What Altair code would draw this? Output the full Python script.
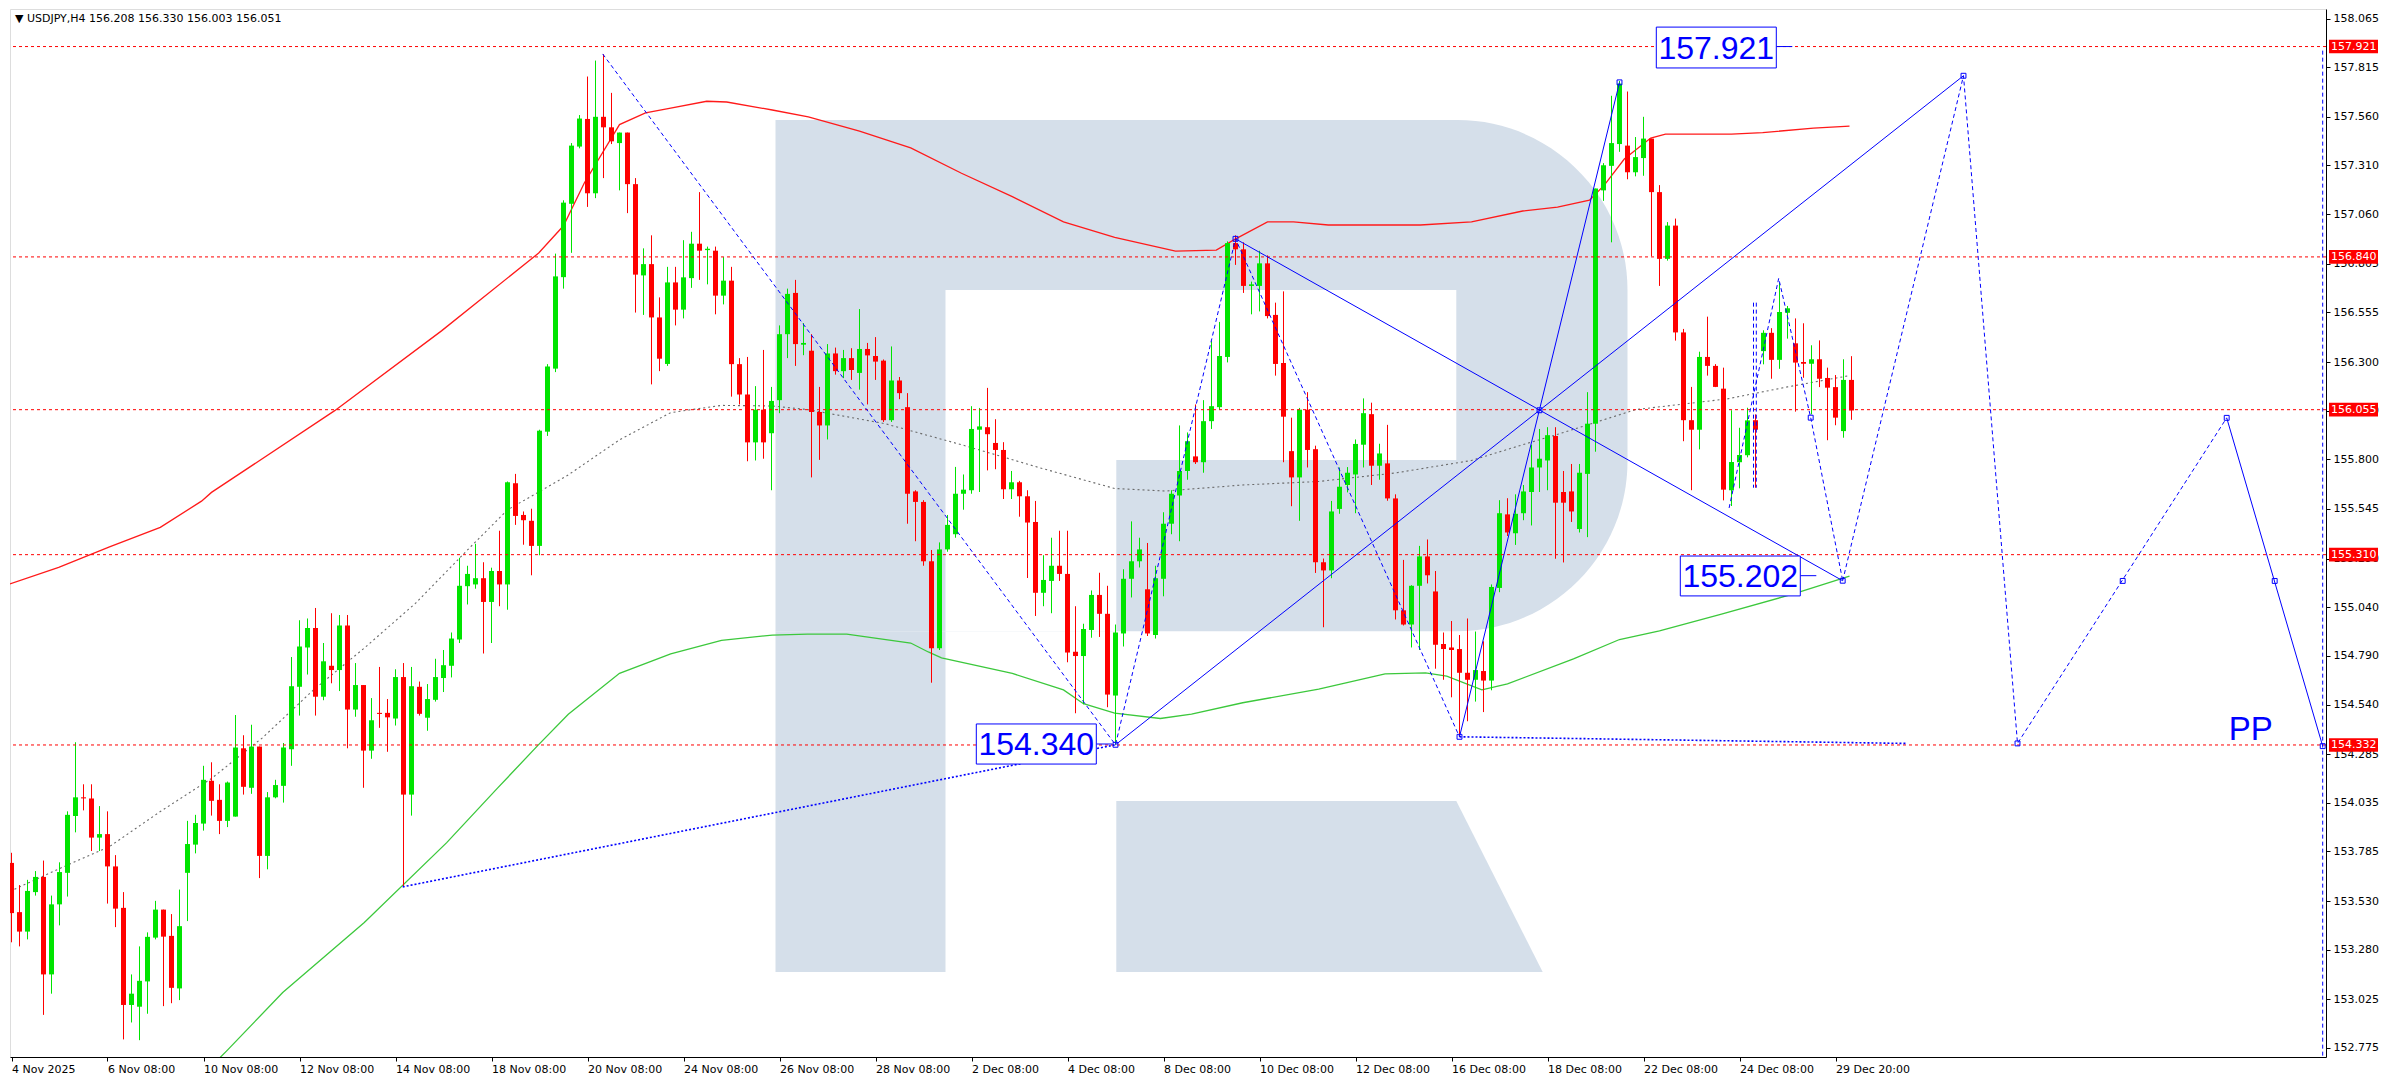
import json
import numpy as np
import pandas as pd
import altair as alt

# ---------------- candles (USDJPY H4) ----------------
opens = [
    153.726, 153.473, 153.373, 153.576, 153.654, 153.153, 153.513, 153.675, 153.967, 154.063,
    154.057, 153.856, 153.874, 153.708, 153.495, 152.996, 152.987, 153.117, 153.342, 153.486,
    153.351, 153.081, 153.675, 153.820, 153.928, 154.148, 154.050, 153.942, 153.964, 154.315,
    154.112, 154.324, 153.762, 154.063, 154.122, 154.310, 154.631, 154.833, 154.933, 154.580,
    154.739, 154.717, 154.946, 154.514, 154.640, 154.303, 154.497, 154.497, 154.468, 154.681,
    154.077, 154.631, 154.472, 154.564, 154.676, 154.739, 154.874, 155.148, 155.157, 155.189,
    155.067, 155.226, 155.157, 155.677, 155.514, 155.484, 155.355, 155.942, 156.266, 156.736,
    157.113, 157.407, 157.549, 157.167, 157.560, 157.506, 157.425, 157.479, 157.214, 156.745,
    156.803, 156.529, 156.290, 156.709, 156.569, 156.731, 156.908, 156.875, 156.872, 156.641,
    156.718, 156.289, 156.133, 155.887, 156.055, 155.934, 156.104, 156.443, 156.655, 156.389,
    156.358, 156.043, 155.974, 156.344, 156.253, 156.320, 156.244, 156.367, 156.331, 156.307,
    156.001, 156.205, 156.068, 155.635, 155.581, 155.276, 154.829, 155.337, 155.415, 155.623,
    155.641, 155.952, 155.965, 155.884, 155.848, 155.646, 155.682, 155.610, 155.478, 155.114,
    155.175, 155.253, 155.211, 154.811, 154.789, 154.923, 155.103, 155.006, 154.586, 154.905,
    155.186, 155.276, 155.132, 154.897, 155.186, 155.469, 155.614, 155.740, 155.815, 155.785,
    155.996, 156.068, 156.326, 156.911, 156.879, 156.691, 156.691, 156.807, 156.542, 156.295,
    155.842, 155.707, 156.055, 155.852, 155.271, 155.229, 155.545, 155.668, 155.722, 155.875,
    156.032, 155.767, 155.779, 155.599, 155.024, 154.951, 155.150, 155.301, 155.121, 154.851,
    154.833, 154.825, 154.703, 154.667, 154.712, 154.663, 155.139, 155.517, 155.420, 155.523,
    155.632, 155.758, 155.794, 155.920, 155.632, 155.635, 155.442, 155.725, 155.983, 157.182,
    157.308, 157.420, 157.412, 157.275, 157.348, 157.448, 157.173, 156.830, 157.001, 156.452,
    156.001, 155.952, 156.326, 156.280, 156.163, 155.641, 155.785, 155.821, 156.001, 156.356,
    156.450, 156.311, 156.553, 156.396, 156.300, 156.291, 156.314, 156.218, 156.171, 155.945,
    156.208,
]
highs = [
    153.778, 153.612, 153.639, 153.684, 153.738, 153.558, 153.729, 153.991, 154.346, 154.130,
    154.130, 154.018, 153.991, 153.766, 153.576, 153.153, 153.297, 153.369, 153.531, 153.486,
    153.463, 153.589, 153.942, 153.973, 154.225, 154.243, 154.130, 154.144, 154.486, 154.382,
    154.436, 154.324, 154.090, 154.153, 154.342, 154.784, 154.973, 154.982, 155.036, 154.856,
    155.009, 155.000, 155.000, 154.753, 154.640, 154.573, 154.733, 154.568, 154.721, 154.753,
    154.733, 154.658, 154.645, 154.775, 154.820, 154.910, 155.294, 155.253, 155.366, 155.271,
    155.243, 155.433, 155.686, 155.725, 155.532, 155.546, 155.952, 156.289, 156.857, 157.131,
    157.425, 157.569, 157.767, 157.849, 157.881, 157.683, 157.479, 157.479, 157.245, 156.884,
    156.951, 156.632, 156.789, 156.789, 156.926, 156.969, 157.173, 156.893, 156.893, 156.839,
    156.789, 156.320, 156.326, 156.176, 156.362, 156.172, 156.488, 156.677, 156.722, 156.500,
    156.443, 156.172, 156.392, 156.374, 156.362, 156.371, 156.572, 156.398, 156.428, 156.313,
    156.380, 156.223, 156.140, 155.641, 155.590, 155.334, 155.373, 155.514, 155.761, 155.722,
    156.073, 156.064, 156.167, 156.006, 155.888, 155.740, 155.689, 155.641, 155.586, 155.307,
    155.397, 155.433, 155.433, 155.045, 154.955, 155.126, 155.217, 155.150, 154.951, 155.235,
    155.481, 155.397, 155.370, 155.253, 155.528, 155.641, 155.974, 155.938, 156.082, 156.104,
    156.407, 156.506, 156.920, 156.951, 156.915, 156.713, 156.872, 156.848, 156.605, 156.663,
    156.014, 156.064, 156.145, 155.870, 155.290, 155.586, 155.758, 155.760, 155.902, 156.113,
    156.091, 155.880, 155.977, 155.620, 155.283, 155.153, 155.355, 155.388, 155.226, 154.910,
    154.969, 154.897, 154.982, 154.915, 154.865, 155.157, 155.590, 155.600, 155.620, 155.668,
    155.875, 155.956, 155.965, 155.965, 155.740, 155.776, 155.776, 156.145, 157.191, 157.322,
    157.668, 157.744, 157.690, 157.456, 157.560, 157.448, 157.209, 157.019, 157.037, 156.470,
    156.172, 156.353, 156.533, 156.289, 156.271, 156.052, 155.962, 156.065, 156.031, 156.463,
    156.474, 156.707, 156.588, 156.524, 156.499, 156.386, 156.411, 156.271, 156.233, 156.314,
    156.330,
]
lows = [
    153.318, 153.297, 153.333, 153.558, 152.945, 153.054, 153.405, 153.553, 153.883, 153.996,
    153.787, 153.787, 153.517, 153.396, 152.819, 152.906, 152.815, 152.951, 153.333, 152.990,
    153.005, 153.021, 153.427, 153.775, 153.892, 153.969, 153.874, 153.910, 153.964, 154.077,
    154.081, 153.648, 153.693, 154.058, 154.036, 154.225, 154.483, 154.694, 154.483, 154.562,
    154.649, 154.609, 154.315, 154.477, 154.112, 154.261, 154.420, 154.297, 154.432, 153.603,
    153.969, 154.483, 154.405, 154.555, 154.604, 154.679, 154.856, 155.054, 155.135, 154.802,
    154.856, 155.045, 155.027, 155.463, 155.361, 155.204, 155.307, 155.920, 156.248, 156.677,
    156.861, 157.398, 157.097, 157.142, 157.245, 157.420, 157.182, 157.065, 156.554, 156.542,
    156.185, 156.253, 156.280, 156.488, 156.524, 156.681, 156.722, 156.699, 156.545, 156.596,
    156.122, 156.082, 155.790, 155.794, 155.803, 155.641, 156.037, 156.320, 156.280, 156.335,
    155.707, 155.797, 155.902, 156.235, 156.217, 156.208, 156.158, 156.082, 156.208, 155.992,
    155.992, 156.109, 155.469, 155.379, 155.253, 154.652, 154.820, 155.325, 155.397, 155.541,
    155.623, 155.632, 155.743, 155.749, 155.596, 155.596, 155.505, 155.190, 154.995, 155.045,
    155.009, 155.175, 154.757, 154.495, 154.541, 154.883, 154.887, 154.526, 154.333, 154.838,
    155.090, 155.244, 154.892, 154.879, 155.096, 155.415, 155.379, 155.695, 155.776, 155.731,
    155.956, 156.055, 156.298, 156.799, 156.655, 156.545, 156.560, 156.524, 156.230, 155.785,
    155.559, 155.484, 155.758, 155.216, 154.937, 155.189, 155.520, 155.630, 155.523, 155.758,
    155.668, 155.695, 155.587, 154.977, 154.946, 154.833, 154.820, 155.162, 154.724, 154.667,
    154.577, 154.375, 154.454, 154.555, 154.501, 154.613, 155.117, 155.406, 155.360, 155.487,
    155.460, 155.632, 155.641, 155.289, 155.270, 155.478, 155.424, 155.400, 155.839, 157.128,
    156.915, 157.380, 157.239, 157.254, 157.257, 156.843, 156.691, 156.821, 156.410, 155.893,
    155.641, 155.851, 156.230, 156.171, 155.589, 155.560, 155.651, 155.810, 155.654, 156.288,
    156.214, 156.265, 156.420, 156.045, 156.219, 156.031, 156.171, 155.898, 155.975, 155.911,
    156.003,
]
closes = [
    153.468, 153.373, 153.582, 153.654, 153.153, 153.513, 153.679, 153.973, 154.063, 154.059,
    153.856, 153.874, 153.708, 153.491, 152.996, 153.054, 153.120, 153.346, 153.486, 153.347,
    153.084, 153.401, 153.823, 153.931, 154.153, 154.045, 153.942, 154.139, 154.319, 154.117,
    154.324, 153.762, 154.063, 154.126, 154.319, 154.634, 154.838, 154.933, 154.580, 154.762,
    154.717, 154.946, 154.514, 154.640, 154.303, 154.459, 154.494, 154.474, 154.681, 154.077,
    154.634, 154.492, 154.568, 154.681, 154.742, 154.879, 155.150, 155.211, 155.189, 155.067,
    155.226, 155.157, 155.682, 155.509, 155.487, 155.355, 155.947, 156.277, 156.740, 157.119,
    157.412, 157.551, 157.167, 157.560, 157.506, 157.434, 157.479, 157.214, 156.749, 156.803,
    156.529, 156.317, 156.709, 156.569, 156.735, 156.908, 156.872, 156.882, 156.641, 156.718,
    156.289, 156.133, 155.887, 156.055, 155.887, 156.100, 156.443, 156.650, 156.392, 156.398,
    156.043, 155.974, 156.344, 156.253, 156.320, 156.259, 156.367, 156.334, 156.302, 156.001,
    156.205, 156.140, 155.623, 155.581, 155.276, 154.829, 155.337, 155.463, 155.623, 155.644,
    155.956, 155.969, 155.929, 155.848, 155.646, 155.682, 155.610, 155.475, 155.114, 155.180,
    155.253, 155.211, 154.807, 154.789, 154.928, 155.103, 155.006, 154.591, 154.910, 155.186,
    155.276, 155.337, 154.905, 155.189, 155.469, 155.623, 155.740, 155.893, 155.785, 155.996,
    156.073, 156.331, 156.911, 156.879, 156.691, 156.699, 156.807, 156.536, 156.290, 156.019,
    155.707, 156.055, 155.848, 155.271, 155.229, 155.532, 155.659, 155.731, 155.879, 156.037,
    155.767, 155.830, 155.599, 155.024, 154.951, 155.150, 155.301, 155.204, 154.847, 154.825,
    154.820, 154.703, 154.667, 154.717, 154.663, 155.144, 155.523, 155.424, 155.520, 155.635,
    155.758, 155.803, 155.924, 155.577, 155.577, 155.532, 155.731, 155.983, 157.191, 157.311,
    157.425, 157.731, 157.275, 157.353, 157.448, 157.173, 156.830, 157.001, 156.452, 156.001,
    155.952, 156.326, 156.280, 156.172, 155.644, 155.786, 155.822, 156.000, 155.952, 156.450,
    156.311, 156.557, 156.576, 156.297, 156.291, 156.314, 156.214, 156.168, 156.014, 156.208,
    156.051,
]

# ---------------- axes ----------------
x_tick_bars = [0, 12, 24, 36, 48, 60, 72, 84, 96, 108, 120, 132, 144, 156, 168, 180, 192, 204, 216, 228]
x_tick_labels = ["4 Nov 2025", "6 Nov 08:00", "10 Nov 08:00", "12 Nov 08:00", "14 Nov 08:00",
                 "18 Nov 08:00", "20 Nov 08:00", "24 Nov 08:00", "26 Nov 08:00", "28 Nov 08:00",
                 "2 Dec 08:00", "4 Dec 08:00", "8 Dec 08:00", "10 Dec 08:00", "12 Dec 08:00",
                 "16 Dec 08:00", "18 Dec 08:00", "22 Dec 08:00", "24 Dec 08:00", "29 Dec 20:00"]
y_tick_values = [158.065, 157.815, 157.560, 157.310, 157.060, 156.805, 156.555, 156.300, 156.050,
                 155.800, 155.545, 155.290, 155.040, 154.790, 154.540, 154.285, 154.035, 153.785,
                 153.530, 153.280, 153.025, 152.775]
level_prices = [157.921, 156.840, 156.055, 155.310, 154.332]

# ---------------- moving averages ----------------
red_ma_bar = [-0.2, 5.9, 12.25, 18.6, 23.75, 25, 40.4, 53.75, 65.9, 69, 71.6, 76, 79.25, 82.4, 86.9,
              89.4, 95.1, 99.6, 106, 112.4, 118.75, 125.1, 131.5, 137.9, 145.5, 150.6, 152.9, 157,
              160.25, 164.6, 176.1, 182.5, 188.9, 193.25, 197.25, 199.1, 201.6, 204.9, 206.75, 215,
              218.9, 225.25, 229.75]
red_ma_price = [155.16, 155.245, 155.35, 155.45, 155.585, 155.63, 156.05, 156.46, 156.86, 157.00,
                157.22, 157.52, 157.58, 157.605, 157.64, 157.636, 157.595, 157.56, 157.487, 157.40,
                157.27, 157.15, 157.02, 156.94, 156.87, 156.875, 156.93, 157.02, 157.02, 157.004,
                157.004, 157.02, 157.076, 157.096, 157.132, 157.209, 157.343, 157.451, 157.471,
                157.471, 157.479, 157.502, 157.512]
green_ma_bar = [23.5, 26.9, 33.9, 44.1, 54.4, 60.75, 65.8, 69.6, 76, 82.4, 88.75, 95.1, 99.5, 104.4,
                112.4, 114.6, 116.25, 125.1, 131.5, 134, 137.9, 143.6, 147.5, 153.9, 163.4, 171.7,
                176.75, 179.4, 183.8, 187, 195.25, 201, 206, 213.75, 222.75, 229.75]
green_ma_price = [152.62, 152.76, 153.06, 153.42, 153.83, 154.11, 154.33, 154.49, 154.70, 154.80,
                  154.87, 154.897, 154.902, 154.902, 154.856, 154.81, 154.78, 154.70, 154.615,
                  154.544, 154.496, 154.468, 154.491, 154.549, 154.619, 154.697, 154.702, 154.686,
                  154.615, 154.646, 154.774, 154.874, 154.918, 155.005, 155.108, 155.20]
gray_ma_bar = [-0.2, 5.9, 12.25, 18.6, 25, 31.4, 37.75, 44.1, 50.5, 56.9, 62, 69.6, 76, 82.4, 88.75,
               95.1, 99.6, 109.2, 118.75, 128.4, 137.9, 144.25, 153.9, 163.4, 173, 182.5, 188.9,
               193.4, 203, 214.4, 222, 229.75]
gray_ma_price = [153.58, 153.695, 153.81, 153.99, 154.16, 154.37, 154.615, 154.83, 155.06, 155.33,
                 155.54, 155.72, 155.90, 156.04, 156.077, 156.074, 156.055, 155.983, 155.875,
                 155.758, 155.65, 155.637, 155.668, 155.686, 155.73, 155.794, 155.875, 155.93,
                 156.055, 156.11, 156.172, 156.23]

# ---------------- forecast drawing ----------------
solid_from_bar = [138, 153, 181, 276.9]
solid_from_price = [154.333, 156.933, 154.374, 156.013]
solid_to_bar = [244, 228.9, 201, 288.9]
solid_to_price = [157.771, 155.176, 157.737, 154.326]

dotted_from_bar = [48.9, 181]
dotted_from_price = [153.603, 154.374]
dotted_to_bar = [138, 236.75]
dotted_to_price = [154.333, 154.34]

dash_group = ["a", "a", "a", "a", "b", "b", "b", "b", "c", "c", "c", "c"]
dash_bar = [73.9, 138, 153, 181, 228.9, 244, 250.75, 276.9, 214.7, 220.9, 224.9, 228.9]
dash_price = [157.883, 154.333, 156.933, 154.374, 155.176, 157.771, 154.34, 156.013,
              155.55, 156.73, 156.014, 155.176]

# vertical dashed guides: bar, top price, bottom price (None-free: bottom of the right guide is the axis floor)
vguide_bar = [217.75, 218.1]
vguide_top = [156.605, 156.605]
vguide_bottom = [155.654, 155.654]
vline_bar = [288.9]
vline_top = [157.90]

marker_bar = [138, 153, 191, 181, 201, 244, 228.9, 276.9, 288.9, 250.75, 263.9, 282.9, 224.9]
marker_price = [154.333, 156.933, 156.052, 154.374, 157.737, 157.771, 155.176, 156.013, 154.326,
                154.34, 155.175, 155.175, 156.014]

box_text = ["157.921", "155.202", "154.340"]
box_left = [205.6, 208.6, 120.6]
box_right = [220.6, 223.6, 135.6]
box_top = [158.021, 155.303, 154.440]
box_bottom = [157.811, 155.098, 154.234]
box_tail_to = [222.6, 225.6, 137.6]
box_tail_price = [157.921, 155.202, 154.337]

pp_bar = [279.9]
pp_price = [154.41]

# watermark "R" (bar / price space)
logo_bowl = dict(x=95.5, x2=202.0, y=154.917, y2=157.543)
logo_stem = dict(x=95.5, x2=116.75, y=153.165, y2=154.917)
logo_holes_x = [116.75, 116.75]
logo_holes_x2 = [180.6, 138.1]
logo_holes_y = [155.796, 154.917]
logo_holes_y2 = [156.670, 155.796]
logo_leg_bar = [138.1, 180.6, 191.4]
logo_leg_top = [154.044, 154.044, 153.165]
logo_leg_bottom = [153.165, 153.165, 153.165]

# ---------------- layout ----------------
W, H = 2316, 1048
PX_PER_BAR = 8.0
PX_PER_UNIT = 194.6
X0 = -0.1875
X_DOMAIN = [X0, X0 + W / PX_PER_BAR]
Y_TOP = 158.114
Y_DOMAIN = [Y_TOP - H / PX_PER_UNIT, Y_TOP]

GREEN = "#00E400"
RED = "#FF0000"
BLUE = "#0000FF"
LOGO = "#D5DFEA"
FONT = "DejaVu Sans"
BIG = "Liberation Sans"

xs = alt.Scale(domain=X_DOMAIN, nice=False, zero=False)
ys = alt.Scale(domain=Y_DOMAIN, nice=False, zero=False)

label_expr = json.dumps(x_tick_labels) + "[round(datum.value / 12)]"
x_axis = alt.Axis(values=x_tick_bars, labelExpr=label_expr, title=None, grid=False,
                  orient="bottom", labelAlign="left", labelFont=FONT, labelFontSize=11,
                  labelColor="black", tickSize=4, tickColor="black", domainColor="black",
                  labelPadding=2, labelOverlap=False, labelFlush=False)
y_axis = alt.Axis(values=y_tick_values, format=".3f", title=None, grid=False, orient="right",
                  labelFont=FONT, labelFontSize=11, labelColor="black", tickSize=4,
                  tickColor="black", domainColor="black", labelPadding=3,
                  labelOverlap=False, labelFlush=False)


def X(f):
    return alt.X(f"{f}:Q", scale=xs, axis=x_axis)


def Y(f):
    return alt.Y(f"{f}:Q", scale=ys, axis=y_axis)


# candle table
n = len(closes)
cd = pd.DataFrame({"x": np.arange(n, dtype=float), "o": opens, "h": highs, "l": lows, "c": closes})
cd["dir"] = np.where(cd["c"] >= cd["o"], "up", "down")
cd["bt"] = cd[["o", "c"]].max(axis=1)
cd["bb"] = np.minimum(cd[["o", "c"]].min(axis=1), cd["bt"] - 0.0055)
cd["xl"] = cd["x"] - 0.3125
cd["xr"] = cd["x"] + 0.3125
ccol = alt.Color("dir:N", scale=alt.Scale(domain=["up", "down"], range=[GREEN, RED]), legend=None)

wicks = alt.Chart(cd).mark_rule(strokeWidth=1, clip=True).encode(
    x=X("x"), y=Y("l"), y2="h", color=ccol)
bodies = alt.Chart(cd).mark_rect(clip=True).encode(
    x=X("xl"), x2="xr", y=Y("bb"), y2="bt", color=ccol)

# watermark
bowl = alt.Chart(pd.DataFrame([logo_bowl])).mark_rect(
    color=LOGO, cornerRadiusTopRight=170, cornerRadiusBottomRight=170).encode(
    x=X("x"), x2="x2", y=Y("y"), y2="y2")
stem = alt.Chart(pd.DataFrame([logo_stem])).mark_rect(color=LOGO).encode(
    x=X("x"), x2="x2", y=Y("y"), y2="y2")
holes = alt.Chart(pd.DataFrame({"x": logo_holes_x, "x2": logo_holes_x2, "y": logo_holes_y,
                                "y2": logo_holes_y2})).mark_rect(color="white").encode(
    x=X("x"), x2="x2", y=Y("y"), y2="y2")
leg = alt.Chart(pd.DataFrame({"x": logo_leg_bar, "y": logo_leg_top, "y2": logo_leg_bottom})).mark_area(
    color=LOGO, opacity=1).encode(x=X("x"), y=Y("y"), y2="y2")

# moving averages
red_ma = alt.Chart(pd.DataFrame({"x": red_ma_bar, "y": red_ma_price})).mark_line(
    color="#FF1A1A", strokeWidth=1.3, clip=True).encode(x=X("x"), y=Y("y"))
green_ma = alt.Chart(pd.DataFrame({"x": green_ma_bar, "y": green_ma_price})).mark_line(
    color="#3CC83C", strokeWidth=1.3, clip=True).encode(x=X("x"), y=Y("y"))
gray_ma = alt.Chart(pd.DataFrame({"x": gray_ma_bar, "y": gray_ma_price})).mark_line(
    color="#6A6A6A", strokeWidth=1.1, strokeDash=[2, 3], clip=True).encode(x=X("x"), y=Y("y"))

# horizontal levels
levels = alt.Chart(pd.DataFrame({"y": level_prices})).mark_rule(
    color=RED, strokeWidth=1, strokeDash=[3, 3]).encode(y=Y("y"))

# blue drawing
solid = alt.Chart(pd.DataFrame({"x": solid_from_bar, "y": solid_from_price,
                                "x2": solid_to_bar, "y2": solid_to_price})).mark_rule(
    color=BLUE, strokeWidth=1, clip=True).encode(x=X("x"), y=Y("y"), x2="x2", y2="y2")
dotted = alt.Chart(pd.DataFrame({"x": dotted_from_bar, "y": dotted_from_price,
                                 "x2": dotted_to_bar, "y2": dotted_to_price})).mark_rule(
    color=BLUE, strokeWidth=1.6, strokeDash=[2, 2], clip=True).encode(
    x=X("x"), y=Y("y"), x2="x2", y2="y2")
dashed = alt.Chart(pd.DataFrame({"g": dash_group, "k": range(len(dash_bar)), "x": dash_bar,
                                 "y": dash_price})).mark_line(
    color=BLUE, strokeWidth=1, strokeDash=[4, 3], clip=True).encode(
    x=X("x"), y=Y("y"), detail="g:N", order="k:Q")
vguides = alt.Chart(pd.DataFrame({"x": vguide_bar, "y": vguide_top, "y2": vguide_bottom})).mark_rule(
    color=BLUE, strokeWidth=1, strokeDash=[4, 3], clip=True).encode(x=X("x"), y=Y("y"), y2="y2")
vline = alt.Chart(pd.DataFrame({"x": vline_bar, "y": vline_top, "y2": [Y_DOMAIN[0]]})).mark_rule(
    color=BLUE, strokeWidth=1, strokeDash=[4, 3], clip=True).encode(x=X("x"), y=Y("y"), y2="y2")
markers = alt.Chart(pd.DataFrame({"x": marker_bar, "y": marker_price})).mark_point(
    shape="square", filled=False, size=24, color=BLUE, strokeWidth=1, opacity=1).encode(
    x=X("x"), y=Y("y"))

bx = pd.DataFrame({"t": box_text, "x": box_left, "x2": box_right, "y": box_bottom, "y2": box_top,
                   "tx": box_tail_to, "ty": box_tail_price})
bx["cx"] = (bx["x"] + bx["x2"]) / 2
bx["cy"] = (bx["y"] + bx["y2"]) / 2
box_tails = alt.Chart(bx).mark_rule(color=BLUE, strokeWidth=1).encode(
    x=X("x2"), x2="tx", y=Y("ty"))
boxes = alt.Chart(bx).mark_rect(fill="white", stroke=BLUE, strokeWidth=1).encode(
    x=X("x"), x2="x2", y=Y("y"), y2="y2")
box_labels = alt.Chart(bx).mark_text(font=BIG, fontSize=32, color=BLUE, align="center",
                                     baseline="middle", dy=1).encode(
    x=X("cx"), y=Y("cy"), text="t:N")
pp = alt.Chart(pd.DataFrame({"x": pp_bar, "y": pp_price, "t": ["PP"]})).mark_text(
    font=BIG, fontSize=33, color=BLUE, align="center", baseline="middle").encode(
    x=X("x"), y=Y("y"), text="t:N")

# price level tags on the right axis
tags = pd.DataFrame({"y": level_prices})
tags["t"] = tags["y"].map(lambda v: f"{v:.3f}")
tags["top"] = tags["y"] + 0.035
tags["bot"] = tags["y"] - 0.035
tag_rects = alt.Chart(tags).mark_rect(color=RED).encode(
    x=alt.value(W + 3), x2=alt.value(W + 52), y=Y("bot"), y2="top")
tag_text = alt.Chart(tags).mark_text(color="white", font=FONT, fontSize=11, align="left",
                                     baseline="middle").encode(
    x=alt.value(W + 5), y=Y("y"), text="t:N")

header_str = "\u25BC USDJPY,H4  {:.3f} {:.3f} {:.3f} {:.3f}".format(
    opens[-1], highs[-1], lows[-1], closes[-1])
header = alt.Chart(pd.DataFrame({"t": [header_str]})).mark_text(
    font=FONT, fontSize=11, color="black", align="left", baseline="middle").encode(
    x=alt.value(5), y=alt.value(10), text="t:N")

chart = alt.layer(
    bowl, stem, holes, leg,
    red_ma, green_ma, gray_ma,
    wicks, bodies,
    levels,
    dotted, dashed, vguides, solid, vline, markers,
    box_tails, boxes, box_labels, pp,
    tag_rects, tag_text, header,
).properties(
    width=W, height=H,
    padding={"left": 1, "top": 1, "right": 0, "bottom": 0},
).configure_view(
    stroke="black", strokeWidth=1
).configure(background="white")

chart.save("out.html", embed_options={"renderer": "svg", "actions": False})
